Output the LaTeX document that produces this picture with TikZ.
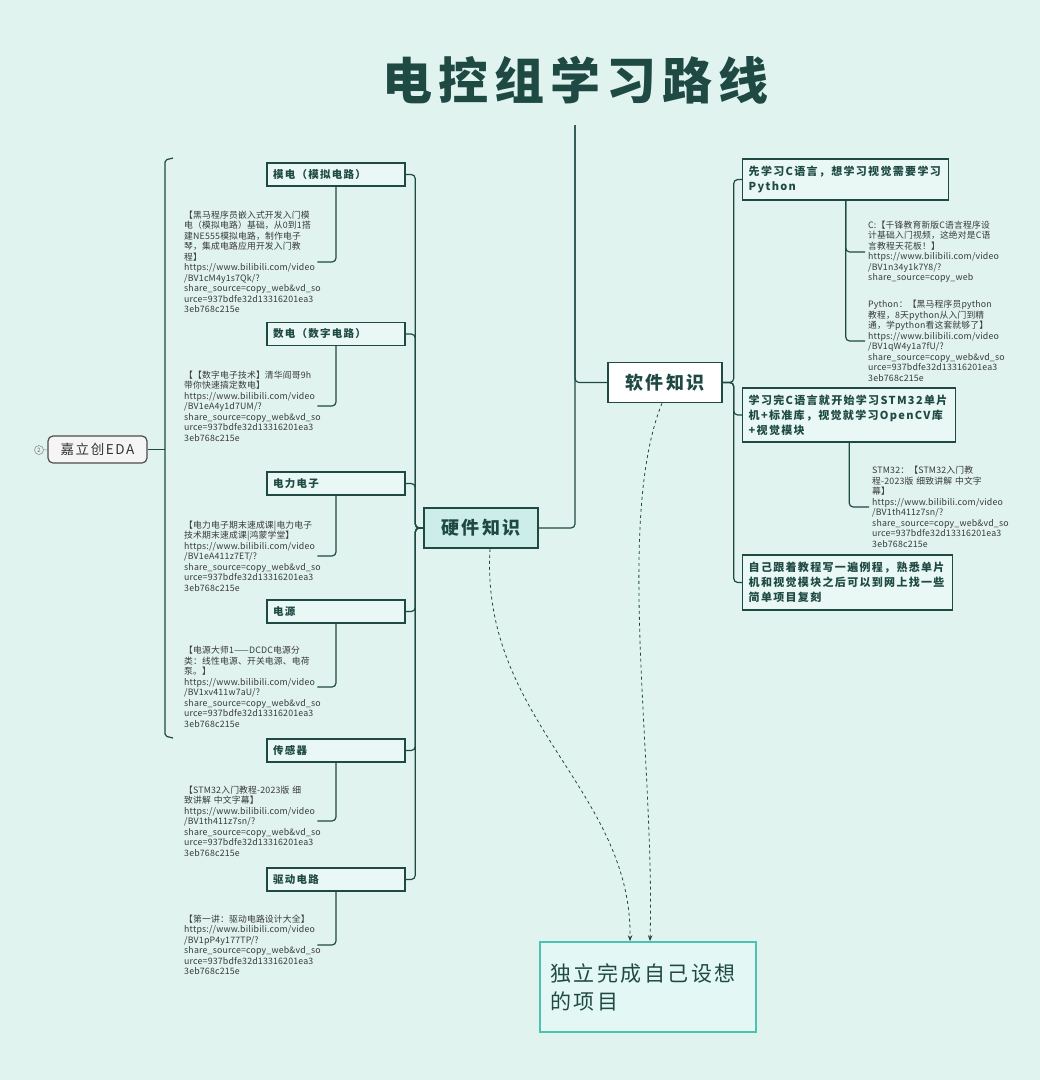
\documentclass[tikz,border=0pt]{standalone}
\usepackage{fontspec}
\setmainfont{Noto Sans CJK SC}[LetterSpace=12]
\usetikzlibrary{positioning,arrows.meta}
\definecolor{bgmint}{HTML}{E0F3EF}
\definecolor{ink}{HTML}{1F4A44}
\definecolor{notegray}{HTML}{3A3A3A}
\definecolor{boxfill}{HTML}{E9F8F5}
\definecolor{hwfill}{HTML}{CDEEE8}
\definecolor{goalline}{HTML}{4EC2B2}
\definecolor{goalfill}{HTML}{E3F7F4}
\newcommand\bili{https://www.bilibili.com/video}
\newcommand\urltail{share\_source=copy\_web\&vd\_so\\urce=937bdfe32d13316201ea3\\3eb768c215e}

\begin{document}
\begin{tikzpicture}[x=1pt, y=-1pt,
  link/.style={draw=ink, line width=1.2pt, rounded corners=4pt},
  flow/.style={draw=ink, line width=0.8pt, dashed, -{Stealth[length=6pt,width=4.5pt]}},
  box/.style={draw=ink, line width=1.4pt, fill=boxfill, text=ink, align=left, inner xsep=6pt,
    minimum height=23pt, text width=126pt, font=\bfseries\fontsize{10.5}{13}\selectfont},
  rbox/.style={box, anchor=west, font=\bfseries\fontsize{11}{15}\selectfont},
  note/.style={text=notegray, align=left, inner xsep=3pt, inner ysep=0pt, text width=130pt,
    font=\fontsize{8.8}{10.5}\selectfont\addfontfeature{LetterSpace=2}},
  topic/.style={draw=ink, line width=1.5pt, minimum width=114pt, minimum height=40pt,
    text=ink, font=\bfseries\fontsize{18}{20}\selectfont},
]
\fill[bgmint] (0,0) rectangle (1040,1080);
\useasboundingbox (0,0) rectangle (1040,1080);

% title and main topics
\node[text=ink, inner sep=0pt, minimum height=90pt, font=\bfseries\fontsize{50}{54}\selectfont] (title) at (575,80) {电控组学习路线};
\node[topic, fill=hwfill] (hw) at (481,528) {硬件知识};
\node[topic, fill=white] (sw) at (665,382.5) {软件知识};
\node[draw=goalline, line width=1.6pt, fill=goalfill, minimum width=216pt, minimum height=90pt,
  text width=196pt, align=left, text=ink, font=\fontsize{21}{28}\selectfont] (goal) at (648,987) {独立完成自己设想\\的项目};

% hardware branch
\node[box] (m1) at (336,174.5) {模电（模拟电路）};
\node[box] (m2) at (336,334) {数电（数字电路）};
\node[box] (m3) at (336,483.5) {电力电子};
\node[box] (m4) at (336,611.5) {电源};
\node[box] (m5) at (336,750.5) {传感器};
\node[box] (m6) at (336,879.5) {驱动电路};

\node[note, anchor=west] (t1) at (181,262) {【黑马程序员嵌入式开发入门模\\电（模拟电路）基础，从0到1搭\\建NE555模拟电路，制作电子\\琴，集成电路应用开发入门教\\程】\\\bili\\/BV1cM4y1s7Qk/?\\\urltail};
\node[note, anchor=west] (t2) at (181,406) {【【数字电子技术】清华阎哥9h\\带你快速搞定数电】\\\bili\\/BV1eA4y1d7UM/?\\\urltail};
\node[note, anchor=west] (t3) at (181,556) {【电力电子期末速成课|电力电子\\技术期末速成课|鸿蒙学堂】\\\bili\\/BV1eA411z7ET/?\\\urltail};
\node[note, anchor=west] (t4) at (181,687) {【电源大师1——DCDC电源分\\类：线性电源、开关电源、电荷\\泵。】\\\bili\\/BV1xv411w7aU/?\\\urltail};
\node[note, anchor=west] (t5) at (181,821) {【STM32入门教程-2023版 细\\致讲解 中文字幕】\\\bili\\/BV1th411z7sn/?\\\urltail};
\node[note, anchor=west] (t6) at (181,945) {【第一讲：驱动电路设计大全】\\\bili\\/BV1pP4y177TP/?\\\urltail};

\foreach \i in {1,...,6} {
  \draw[link] (hw.west) -- ++(-8,0) |- (m\i.east);
  \draw[link] (m\i.south) |- (t\i.east);
}

% software branch
\node[rbox, text width=194pt, minimum height=41pt] (r1) at (742,179.5) {先学习C语言，想学习视觉需要学习\\Python};
\node[rbox, text width=201pt, minimum height=54pt] (r2) at (742,415) {学习完C语言就开始学习STM32单片\\机+标准库，视觉就学习OpenCV库\\+视觉模块};
\node[rbox, text width=198pt, minimum height=55pt] (r3) at (742,582.5) {自己跟着教程写一遍例程，熟悉单片\\机和视觉模块之后可以到网上找一些\\简单项目复刻};

\node[note, anchor=west, text width=132pt] (tc) at (865,252) {C:【千锋教育新版C语言程序设\\计基础入门视频，这绝对是C语\\言教程天花板！】\\\bili\\/BV1n34y1k7Y8/?\\share\_source=copy\_web};
\node[note, anchor=west, text width=132pt] (tp) at (865,341) {Python：【黑马程序员python\\教程，8天python从入门到精\\通，学python看这套就够了】\\\bili\\/BV1qW4y1a7fU/?\\\urltail};
\node[note, anchor=west, text width=132pt] (ts) at (869,507) {STM32：【STM32入门教\\程-2023版 细致讲解 中文字\\幕】\\\bili\\/BV1th411z7sn/?\\\urltail};

\foreach \r in {r1,r2,r3}
  \draw[link] (sw.east) -- ++(11,0) |- (\r.west);
\draw[link] (r1.south) |- (tc.west);
\draw[link] (r1.south) |- (tp.west);
\draw[link] (r2.south) |- (ts.west);

% root lines
\draw[link] (title.south) |- (hw.east);
\draw[link] (title.south) |- (sw.west);

% EDA summary
\node[draw=black!70, line width=1.2pt, fill=black!4, rounded corners=5pt, minimum width=99pt,
  minimum height=27pt, text=black!80, font=\fontsize{13.5}{15}\selectfont] (eda) at (97.5,449.5) {嘉立创EDA};
\node[circle, draw=black!50, line width=0.5pt, inner sep=0pt, minimum size=9pt, text=black!60,
  font=\fontsize{6}{6}\selectfont] (num) at (39,450) {2};
\coordinate (brk) at (165,449.5);
\draw[link, rounded corners=2pt] (173,158) -- (165,160) -- (165,736) -- (173,738);
\draw[link] (eda.east) -- (brk);
\draw[draw=black!50, line width=0.5pt] (num) -- (eda);

% goal arrows
\draw[flow] ([xshift=9]hw.south) .. controls (480,720) and (632,790) .. ([xshift=-18]goal.north);
\draw[flow] ([xshift=-3]sw.south) .. controls (615,520) and (655,760) .. ([xshift=2]goal.north);
\end{tikzpicture}
\end{document}
